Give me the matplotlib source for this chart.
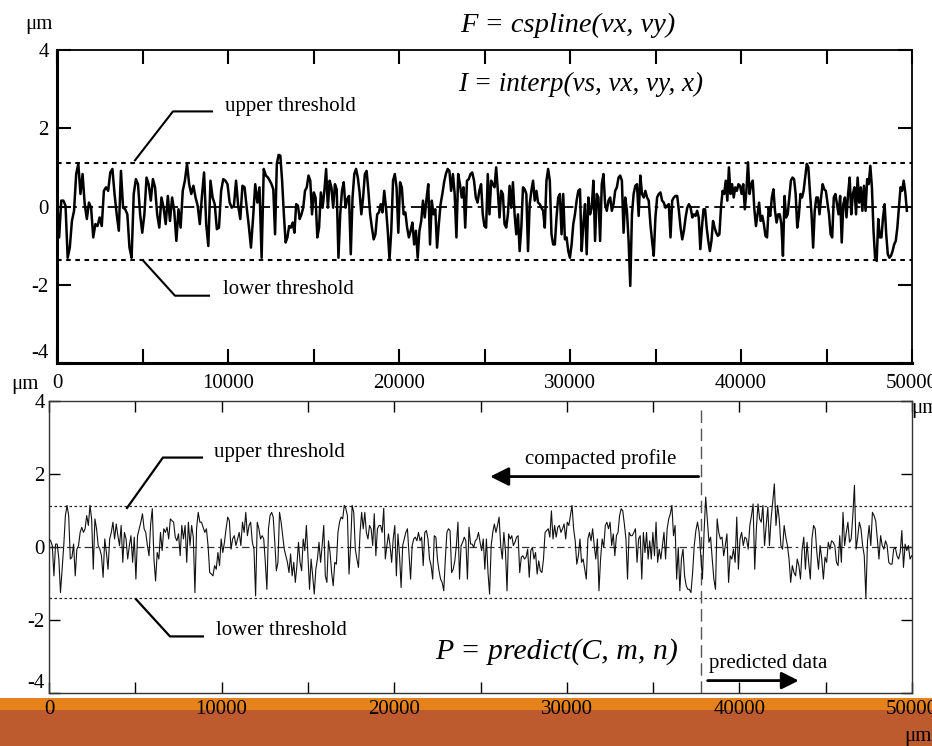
import numpy as np
import matplotlib
matplotlib.use("Agg")
import matplotlib.pyplot as plt
from matplotlib.ticker import MultipleLocator
from matplotlib.patches import Rectangle

plt.rcParams['font.family'] = ['Liberation Serif', 'DejaVu Serif']
plt.rcParams['axes.unicode_minus'] = False

top_seg_x = [(0, 12340), (12340, 24800), (24800, 37250), (37250, 49700)]
top_seg1 = [0.23, -0.79, 0.15, 0.15, 0.02, -1.31, -1.05, -0.37, -0.11, 0.83, 1.09, 0.32, 0.83, 0.06,
            -0.32, 0.10, -0.03, -0.79, -0.45, -0.50, -0.28, -0.50, 0.40, 0.49, 0.40, 0.87, 0.96, 0.32,
            -0.20, -0.62, 0.91, -0.03, -0.07, -0.20, -1.05, -1.31, 0.32, 0.70, 0.57, -0.20, -0.67, -0.20,
            0.74, 0.57, 0.15, 0.70, 0.49, -0.20, -0.54, 0.23, -0.03, -0.45, 0.27, -0.37, 0.23, -0.11,
            -0.88, -0.07, -0.54, 0.40, 0.66, 1.09, 0.57, 0.32, 0.53, 0.23, 0.02, -0.45, 0.27, 0.87,
            -0.45, -1.01, 0.66, 0.23, 0.06, -0.58, -0.54, 0.40, 0.70, 0.66, 0.57, 0.10, -0.03, 0.02,
            0.66, 0.02, -0.32, 0.53, 0.49, -0.03, -0.50, -1.05, -0.28, 0.57, 0.10, 0.49, -1.31, 0.96, 0.79]
top_seg2 = [0.74, 0.66, 0.57, 0.44, -0.71, 1.09, 1.32, 1.30, 0.66, -0.20, -0.92, -0.79, -0.50, -0.54,
            -0.41, -0.67, 0.06, 0.02, -0.32, -0.20, -0.03, 0.40, 0.49, 0.79, 0.66, -0.20, 0.36, 0.23,
            -0.79, -0.54, 0.36, -0.03, 0.40, 0.96, -0.03, 0.66, 0.49, -0.03, 0.57, 0.44, -1.31, -0.20,
            0.40, 0.62, -0.03, 0.19, 0.27, -1.22, 0.23, 0.83, 0.96, 0.74, 0.36, -0.20, 0.23, 0.83, 0.91,
            0.40, -0.20, -0.54, -0.84, -0.71, -0.20, -0.15, 0.06, -0.15, 0.40, -0.03, -0.62, -1.35,
            -0.62, 0.66, 0.83, 0.49, -0.67, 0.62, 0.49, -0.20, -0.15, -0.54, -0.79, -0.62, -0.41, -0.97,
            -0.62, -1.31, -0.62, -0.37, 0.15, -0.28, 0.19, 0.57, -0.97, 0.15, -0.20, -0.07, -1.05, -0.45,
            0.06, 0.32, 0.62, 0.83, 0.96, 0.91, 0.40, 0.83, 0.32, -0.79, 0.83, 0.57, 0.23, 0.49, -0.54,
            0.66, 0.70, 0.83, 0.87, 0.66, 0.23, 0.10, 0.40]
top_seg3 = [0.57, -0.20, -0.50, -0.54, 0.83, -0.20, 0.66, 0.57, 0.49, 1.00, 0.40, -0.28, 0.40, 0.32,
            -0.45, -0.54, -0.20, 0.53, -0.03, 0.62, -0.20, -0.71, -0.20, -1.14, -0.54, 0.49, 0.44, 0.32,
            -1.14, 0.06, 0.40, 0.66, 0.15, 0.40, 0.10, 0.06, -0.03, -0.11, -0.54, 0.66, 0.96, 0.66,
            -0.71, -0.97, -0.97, -0.28, 0.23, 0.32, -0.71, 0.32, -0.84, -0.79, -1.14, -1.31, -0.97,
            -0.45, -0.20, 0.15, 0.40, 0.44, -1.14, -0.45, 0.06, -1.22, 0.23, -0.20, -0.03, 0.66, -0.88,
            0.32, 0.23, -0.88, 0.57, 0.83, 0.06, -0.11, 0.15, 0.23, -0.11, 0.06, 0.40, 0.49, 0.74, 0.79,
            0.66, -0.67, 0.23, -0.11, -0.88, -2.03, -0.20, 0.32, 0.53, 0.57, -0.24, 0.79, 0.32, 0.23,
            0.40, 0.23, 0.15, -0.45, -0.88, -1.26, -0.28, 0.23, 0.32, 0.36, 0.15, 0.10, -0.03, 0.02,
            0.06, -0.79, 0.15, 0.23, 0.27, 0.27, -0.11, -0.54, -0.84, -0.62, -0.28, -0.03, 0.06, -0.03,
            -0.28]
top_seg4 = [-0.20, -0.24, -0.11, -0.28, -1.09, -0.54, -0.07, -0.07, -0.54, -0.88, -1.14, -0.88, -0.37,
            -0.54, -0.67, -0.75, -0.71, -0.03, 0.40, 0.32, 0.66, 0.15, 1.00, 0.32, 0.57, 0.23, 0.49, 0.40,
            0.57, 0.53, 0.32, 0.57, -0.07, 0.40, 1.13, 0.32, 0.57, 0.66, -0.07, -0.50, -0.20, 0.10, -0.37,
            -0.24, -0.45, -0.75, -0.79, -0.03, -0.24, 0.23, 0.44, -0.11, -0.41, -0.20, -0.20, -0.45,
            -1.26, 0.27, -0.28, -0.20, 0.23, 0.66, 0.74, 0.70, 0.32, -0.54, -0.24, 0.32, 0.23, 0.40,
            0.74, 1.09, 1.00, 0.36, -0.20, -1.05, -0.11, 0.23, 0.23, -0.20, 0.23, 0.57, 0.44, 0.40, 0.10,
            -0.20, -0.71, -0.79, 0.23, 0.32, 0.06, -0.20, 0.27, -0.92, 0.06, 0.23, -0.28, 0.32, 0.74,
            -0.20, 0.32, 0.49, -0.20, 0.74, 0.10, 0.49, -0.11, 0.53, -0.11, 0.70, 0.57, 1.04, 0.49,
            -0.62, -1.31, -1.39, -0.32, -0.79, -0.79, -0.28, 0.06, -0.71, -1.22, -1.31, -1.26, -1.14,
            -0.97, -0.88, -0.54, -0.03, 0.49, 0.40, 0.66, 0.36, -0.11]
top_upper, top_lower = 1.12, -1.36

# compacted profile + predicted data (lower chart)
bot_seg_x = [(0, 12350), (12350, 24700), (24700, 37100), (37100, 49980)]
bot_seg1 = [0.22, 0.17, 0.04, -0.79, 0.08, 0.08, -0.33, -1.25, -0.61, 0.04, 0.86, 1.14, 0.86, -0.33,
            -0.28, 0.08, -0.79, -0.06, 0.04, 0.40, 0.54, 0.40, 0.50, 0.86, 0.59, 1.14, 0.77, -0.61, 0.77,
            0.50, 0.04, -0.06, -0.24, -0.83, 0.22, -0.15, -0.61, 0.22, 0.40, 0.68, 0.22, 0.63, 0.31,
            0.04, 0.59, -0.42, 0.40, 0.22, -0.33, 0.04, 0.31, -0.42, 0.27, -0.88, 0.31, 0.50, 0.68, 0.91,
            0.50, 0.40, 0.04, -0.24, 0.63, 1.05, -0.33, -0.93, -0.15, -0.33, 0.40, -0.10, 0.50, 0.40,
            0.54, 0.22, 0.77, 0.72, 0.68, 0.27, 0.17, 0.36, -0.24, 0.59, 0.22, 0.59, -0.42, 0.68, 0.04,
            0.59, 0.27, -1.25, 0.50, 0.95, 0.68, 0.68, 0.54, 0.40, 0.50, 0.04, -0.70, -0.74, -0.79,
            -0.51, -0.61, -0.15, -0.51, 0.22, -0.15, 0.13, 0.50, 0.82, 0.72, -0.06, 0.22, 0.31, 0.04,
            0.22, 0.40, 0.04, 0.68, 0.40, 0.95, 0.31, 0.59, 0.68, 0.13, -0.06, -1.34, 0.68, 0.50, 0.22]
bot_seg2 = [0.31, 0.22, -0.42, -1.16, 0.50, 0.86, 0.95, 0.82, 0.13, -0.65, -0.42, 0.95, 0.68, 0.31,
            -0.06, -0.24, -0.42, -0.70, -0.19, -0.79, -0.42, -0.97, -0.51, 0.13, -0.42, -0.65, 0.22,
            -0.10, 0.59, -0.24, -1.16, -0.33, -0.79, -1.29, -0.61, -0.33, 0.13, -0.42, 0.04, 0.59, -0.79,
            -0.97, 0.17, -0.15, -0.70, -1.06, -0.42, -0.47, 0.40, 0.68, 0.82, 0.77, 1.14, 1.05, 0.86,
            -0.74, 0.04, 1.14, 0.95, -0.06, -0.33, -0.56, 0.40, 0.95, 0.50, 0.95, 0.40, 0.22, 0.59, 0.50,
            0.04, 0.91, -0.24, 0.50, 0.59, 0.59, 0.40, 1.06, -0.33, 0.04, 0.36, 0.04, -0.42, 0.22, 0.59,
            -0.79, 0.36, -0.24, -1.11, 0.04, 0.22, 0.40, 0.50, -0.19, -0.88, 0.04, 0.22, 0.27, 0.17,
            0.40, 0.17, 0.27, -0.51, 0.40, 0.45, 0.22, -0.33, -0.51, -0.88, 0.31, 0.27, -0.33, -0.65,
            -0.88, -0.97, -1.20, -0.33, 0.40, 0.50, 0.45, -0.70, -0.61, -0.38, 0.04, 0.68, -0.88, 0.04,
            0.13, 0.27, 0.17, -0.88, 0.54, 0.08, 0.08, -0.01]
bot_seg3 = [0.17, 0.22, 0.40, 0.13, -0.10, 0.22, -0.61, 0.22, -0.70, -1.29, 0.04, 0.40, 0.63, 0.40,
            0.59, 0.82, 0.04, -0.33, 0.40, -0.10, -1.20, 0.36, 0.22, 0.31, 0.04, 0.13, 0.27, 0.31, -0.70,
            -0.28, -0.24, -0.33, -0.28, -0.06, -0.83, -0.10, -0.01, -0.33, -0.15, -0.74, -0.38, -0.65,
            -0.70, -0.33, 0.40, 0.45, 0.50, 0.27, 0.99, 0.22, 0.59, 0.27, 0.54, 0.59, 0.40, 0.50, 0.63,
            0.22, 0.68, 0.59, 0.86, 1.14, 0.50, 0.17, -0.47, -0.24, 0.22, -0.42, -0.33, -0.61, -0.88,
            0.22, 0.40, 0.17, 0.50, 0.04, -0.33, 0.22, -1.20, -0.33, 0.22, -0.01, 0.59, 0.68, 0.50, 0.68,
            0.04, 0.36, -0.24, 0.31, 0.40, 0.86, 1.05, 0.99, 0.63, 0.22, -0.88, 0.40, 0.31, 0.31, 0.40,
            0.50, -0.42, 0.22, 0.31, -0.88, 0.40, -0.15, 0.40, -0.33, 0.17, -0.33, 0.40, -0.24, 0.68,
            -0.42, -0.06, -0.33, 0.04, 0.40, -0.33, 0.50, 0.77, 0.91, 1.14, 0.31, 0.59, -0.88, -0.01,
            -1.20, -0.33, -0.06, -0.79, -1.06, -1.16]
bot_seg4 = [-1.16, -1.25, -0.70, 0.04, 0.45, 0.68, 0.40, -0.24, -0.88, 0.40, 1.37, 0.77, 0.13, 0.27,
            -0.33, -0.88, -1.16, 0.77, 0.40, 0.22, 0.27, -0.24, 0.04, 0.36, -0.97, -0.24, -0.33, -0.06,
            -0.42, 0.82, -0.61, 0.22, 0.40, 0.04, 0.27, 0.22, -0.06, 0.59, 0.86, 1.18, -0.61, 0.50, 1.18,
            0.77, 0.68, 1.14, 0.04, 0.59, 1.09, 0.04, 0.77, 1.23, 1.73, 0.59, 1.14, 0.77, 0.04, -0.06,
            0.59, 0.27, 0.04, -0.33, -0.97, -0.51, -0.70, -0.79, -0.33, -0.51, -0.88, -0.06, 0.27, -0.61,
            0.13, -0.42, -0.88, 0.22, 0.59, 0.50, -0.15, -0.61, 0.04, -0.33, -0.88, -0.28, -0.42, 0.13,
            -0.06, 0.17, 0.13, 0.04, -0.42, -0.51, 0.31, -0.42, 0.95, 0.04, 0.40, 0.68, 0.13, 0.22, 0.86,
            1.69, -0.06, 0.27, 0.68, 0.50, 0.04, -0.24, -1.39, 0.17, 0.59, 0.04, 0.95, 0.86, 0.72, 0.22,
            -0.33, 0.31, 0.04, -0.06, 0.17, 0.04, -0.42, -0.47, -0.47, -0.06, -0.01, -0.24, -0.33, -0.15,
            0.45, -0.56, 0.08, -0.10, 0.04, -0.33, -0.24]
bot_upper, bot_lower = 1.13, -1.40
split_x = 37800

x_ticks_major = [0, 10000, 20000, 30000, 40000, 50000]


def build(segs, bounds):
    xs, ys = [], []
    for i, (vals, (a, b)) in enumerate(zip(segs, bounds)):
        last = i == len(segs) - 1
        xs.append(np.linspace(a, b, len(vals), endpoint=last))
        ys.append(np.array(vals))
    return np.concatenate(xs), np.concatenate(ys)


top_x, top_y = build([top_seg1, top_seg2, top_seg3, top_seg4], top_seg_x)
bot_x, bot_y = build([bot_seg1, bot_seg2, bot_seg3, bot_seg4], bot_seg_x)

W, H = 932, 746
fig = plt.figure(figsize=(W / 100, H / 100), dpi=100)

# orange footer band
band = fig.add_axes([0, 0, 1, 1], zorder=-5)
band.set_xlim(0, W)
band.set_ylim(H, 0)
band.axis('off')
band.add_patch(Rectangle((0, 698), W, 12, color='#e5821b', lw=0))
band.add_patch(Rectangle((0, 710), W, 36, color='#bd5a2e', lw=0))

serif = 15

# ---------- upper chart ----------
ax1 = fig.add_axes([57 / W, 1 - 363 / H, 855 / W, 313 / H])
ax1.plot(top_x, top_y, color='black', lw=1.8, zorder=3)
ax1.axhline(top_upper, color='black', lw=1.5, ls=(0, (2.2, 2.2)))
ax1.axhline(top_lower, color='black', lw=1.5, ls=(0, (2.2, 2.2)))
ax1.axhline(0, color='black', lw=1.3, ls=(0, (6, 3, 2, 3)))
ax1.set_xlim(0, 50000)
ax1.set_ylim(-4, 4)
ax1.set_xticks(x_ticks_major)
ax1.xaxis.set_minor_locator(MultipleLocator(5000))
ax1.set_yticks([-4, -2, 0, 2, 4])
ax1.tick_params(which='both', direction='in', top=True, right=True, length=10, width=1.5,
                labelsize=serif, pad=8)
ax1.tick_params(axis='y', pad=6)
for s in ['left', 'bottom']:
    ax1.spines[s].set_linewidth(2.2)
for s in ['top', 'right']:
    ax1.spines[s].set_linewidth(1.3)
ax1.get_yticklabels()[0].set_va('bottom')

# leaders
ax1.plot([4560, 6780, 9065], [1.18, 2.43, 2.43], color='black', lw=1.5)
ax1.text(9825, 2.55, 'upper threshold', fontsize=serif, va='center', ha='left')
ax1.plot([5030, 6900, 8890], [-1.38, -2.28, -2.28], color='black', lw=1.5)
ax1.text(9710, -2.12, 'lower threshold', fontsize=serif, va='center', ha='left')

# ---------- lower chart ----------
ax2 = fig.add_axes([49 / W, 1 - 693 / H, 863 / W, 292 / H], zorder=2)
ax2.plot(bot_x, bot_y, color='#111111', lw=0.8, zorder=3)
ax2.axhline(bot_upper, color='#222222', lw=0.9, ls=(0, (2, 2)))
ax2.axhline(bot_lower, color='#222222', lw=0.9, ls=(0, (2, 2)))
ax2.axhline(0, color='#333333', lw=0.9, ls=(0, (6, 3, 2, 3)))
ax2.plot([split_x, split_x], [3.75, -4], color='#555555', lw=1.0, ls=(0, (9, 4)))
ax2.set_xlim(0, 50000)
ax2.set_ylim(-4, 4)
ax2.set_xticks(x_ticks_major)
ax2.xaxis.set_minor_locator(MultipleLocator(5000))
ax2.set_yticks([-4, -2, 0, 2, 4])
ax2.tick_params(which='both', direction='in', top=True, right=True, length=8, width=1,
                labelsize=serif, pad=5)
ax2.tick_params(axis='y', pad=3)
for s in ax2.spines.values():
    s.set_linewidth(1.0)
    s.set_color('#333333')
ax2.get_yticklabels()[0].set_va('bottom')

ax2.plot([4520, 6600, 8860], [1.07, 2.45, 2.45], color='black', lw=1.6)
ax2.text(9560, 2.6, 'upper threshold', fontsize=serif, va='center', ha='left')
ax2.plot([5040, 7010, 8920], [-1.43, -2.45, -2.45], color='black', lw=1.6)
ax2.text(9680, -2.3, 'lower threshold', fontsize=serif, va='center', ha='left')

ax2.annotate('', xy=(25400, 1.93), xytext=(split_x, 1.93),
             arrowprops=dict(arrowstyle='-|>', color='black', lw=2, mutation_scale=28))
ax2.text(31980, 2.42, 'compacted profile', fontsize=serif, ha='center', va='center')
ax2.annotate('', xy=(43600, -3.66), xytext=(38000, -3.66),
             arrowprops=dict(arrowstyle='-|>', color='black', lw=2, mutation_scale=26))
ax2.text(41660, -3.2, 'predicted data', fontsize=serif, ha='center', va='center')
ax2.text(22360, -2.87, 'P = predict(C, m, n)', fontsize=21.5, style='italic', ha='left', va='center')

# formulas and units
fig.text(460 / W, 1 - 25 / H, 'F = cspline(vx, vy)', fontsize=20.5, style='italic', va='center')
fig.text(458 / W, 1 - 84 / H, 'I = interp(vs, vx, vy, x)', fontsize=19.5, style='italic', va='center')
fig.text(39 / W, 1 - 25 / H, 'μm', fontsize=serif, ha='center', va='center')
fig.text(25 / W, 1 - 385 / H, 'μm', fontsize=serif, ha='center', va='center')
fig.text(911 / W, 1 - 409 / H, 'μm', fontsize=serif, ha='left', va='center')
fig.text(904 / W, 1 - 737 / H, 'μm', fontsize=serif, ha='left', va='center')

fig.savefig('out.png', dpi=100)
